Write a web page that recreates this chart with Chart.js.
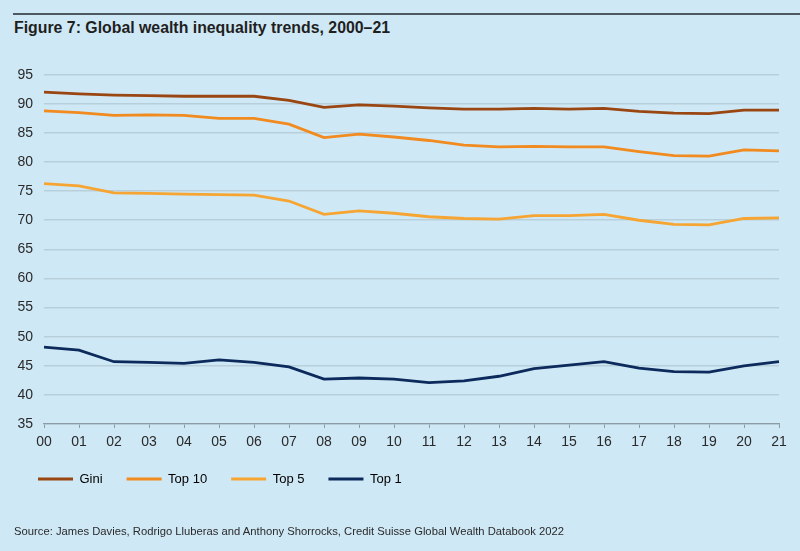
<!DOCTYPE html>
<html>
<head>
<meta charset="utf-8">
<script src="https://cdn.jsdelivr.net/npm/chart.js@4/dist/chart.umd.min.js"></script>
<style>
  html, body { margin: 0; padding: 0; background: #cfe8f5; }
  #wrap { position: relative; width: 800px; height: 551px; overflow: hidden; background: #cfe8f5; }
  #rule { position: absolute; left: 13px; right: 0; top: 13px; height: 2px; background: #4d5862; }
  .txt { position: absolute; left: 14px; white-space: nowrap; transform-origin: 0 50%; font-family: "Liberation Sans", Arial, sans-serif; color: #1f1f1f; }
  #title { top: 19px; font-size: 16px; font-weight: bold; }
  #source { top: 525px; font-size: 11px; color: #2a2a2a; }
  canvas { position: absolute; left: 0; top: 0; }
</style>
</head>
<body>
<div id="wrap">
  <div id="rule"></div>
  <div id="title" class="txt">Figure 7: Global wealth inequality trends, 2000–21</div>
  <canvas id="chart" width="800" height="551"></canvas>
  <div id="source" class="txt">Source: James Davies, Rodrigo Lluberas and Anthony Shorrocks, Credit Suisse Global Wealth Databook 2022</div>
</div>
<script>
// ── Data ──
const years = ['00', '01', '02', '03', '04', '05', '06', '07', '08', '09', '10',
  '11', '12', '13', '14', '15', '16', '17', '18', '19', '20', '21'];
const gini  = [92.0, 91.7, 91.5, 91.4, 91.3, 91.3, 91.3, 90.6, 89.4, 89.8, 89.6,
  89.3, 89.1, 89.1, 89.2, 89.1, 89.2, 88.7, 88.4, 88.3, 88.9, 88.9];
const top10 = [88.8, 88.5, 88.0, 88.1, 88.0, 87.5, 87.5, 86.5, 84.2, 84.8, 84.3,
  83.7, 82.9, 82.6, 82.7, 82.6, 82.6, 81.8, 81.1, 81.0, 82.1, 81.9];
const top5  = [76.3, 75.9, 74.7, 74.6, 74.5, 74.4, 74.3, 73.3, 71.0, 71.6, 71.2,
  70.6, 70.3, 70.2, 70.8, 70.8, 71.0, 70.0, 69.3, 69.2, 70.3, 70.4];
const top1  = [48.2, 47.7, 45.7, 45.6, 45.4, 46.0, 45.6, 44.8, 42.7, 42.9, 42.7,
  42.1, 42.4, 43.2, 44.5, 45.1, 45.7, 44.6, 44.0, 43.9, 45.0, 45.7];

const seriesNames = ['Gini', 'Top 10', 'Top 5', 'Top 1'];
const seriesColors = ['#9a4612', '#f18a1f', '#f6a532', '#0c2a5c'];

// ── Squeeze condensed text to the reference width ──
function fitWidth(id, target) {
  const el = document.getElementById(id);
  const w = el.getBoundingClientRect().width;
  el.style.transform = `scaleX(${target / w})`;
}
fitWidth('title', 376);
fitWidth('source', 550);

// ── Chart ──
const FONT = "'Liberation Sans', Arial, sans-serif";
const datasets = [gini, top10, top5, top1].map((d, i) => ({
  label: seriesNames[i],
  data: d,
  borderColor: seriesColors[i],
  backgroundColor: seriesColors[i],
  borderWidth: 2.8,
  pointRadius: 0,
  tension: 0,
  fill: false
}));

new Chart(document.getElementById('chart'), {
  type: 'line',
  data: { labels: years, datasets },
  options: {
    responsive: false,
    animation: false,
    layout: { padding: { top: 74.7, left: 14, right: 21, bottom: 55.5 } },
    plugins: {
      tooltip: { enabled: false },
      legend: {
        position: 'bottom',
        align: 'start',
        labels: {
          boxWidth: 35,
          boxHeight: 3,
          padding: 24,
          color: '#222',
          font: { family: FONT, size: 13 },
          generateLabels: chart => chart.data.datasets.map((ds, i) => ({
            text: ds.label,
            fillStyle: ds.borderColor,
            strokeStyle: ds.borderColor,
            lineWidth: 0,
            datasetIndex: i,
            hidden: false
          }))
        }
      }
    },
    scales: {
      x: {
        afterFit: s => { s.height = 24.5; },
        grid: { display: true, drawOnChartArea: false, drawTicks: true, tickLength: 4, color: '#8d9ba3' },
        border: { display: true, color: '#8d9ba3', width: 1.2 },
        ticks: { color: '#2a2a2a', padding: 6, maxRotation: 0, autoSkip: false, font: { family: FONT, size: 14 } }
      },
      y: {
        min: 35,
        max: 95,
        afterFit: s => { s.width = 30; },
        grid: { color: '#b7cfdb', lineWidth: 1.5, drawTicks: false },
        border: { display: false },
        ticks: { stepSize: 5, color: '#2a2a2a', padding: 11, font: { family: FONT, size: 14 } }
      }
    }
  }
});
</script>
</body>
</html>
